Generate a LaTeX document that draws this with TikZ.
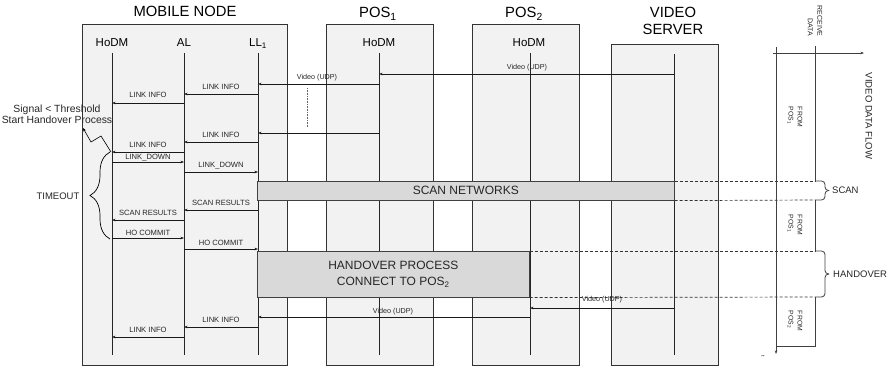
\documentclass[tikz,border=0pt]{standalone}
\usepackage{fontspec}
\setmainfont{Liberation Sans}
\usetikzlibrary{arrows.meta,calc,decorations.pathreplacing}
\newcommand\msgarrow[5]{\draw[arr] ($(#1)+(0,#3)$) -- node[mlab, yshift=#4pt]{#5} ($(#2)+(0,#3)$);}
\begin{document}
\begin{tikzpicture}[x=1pt,y=-1pt,
  box/.style={draw=black!80, fill=gray!10, line width=0.7pt, inner sep=0pt, anchor=north west},
  bar/.style={draw=black!75, fill=gray!30, line width=0.6pt, inner sep=0pt, anchor=north west, text=black!85},
  life/.style={line width=0.8pt, draw=black!85},
  arr/.style={-{Stealth[length=3.5pt,width=2.6pt]}, line width=0.6pt, draw=black!90},
  mlab/.style={font=\fontsize{7.6}{9}\selectfont, text=black!85, anchor=base, inner sep=0pt},
  vlab/.style={font=\fontsize{7.2}{9}\selectfont, text=black!85, anchor=base, inner sep=0pt},
  ttl/.style={font=\fontsize{14.8}{17}\selectfont, align=center, inner sep=0pt, anchor=base},
  llab/.style={font=\fontsize{11.5}{14}\selectfont, inner sep=0pt, anchor=base},
  side/.style={font=\fontsize{9.5}{11}\selectfont, inner sep=0pt, text=black!85},
  rot/.style={font=\fontsize{6.8}{9}\selectfont, inner sep=0pt, rotate=-90, text=black!85},
  axis/.style={line width=0.8pt, draw=black!75},
  dsh/.style={line width=0.7pt, dash pattern=on 3pt off 2pt, draw=black!80}]
\useasboundingbox (0,0) rectangle (892,369);

% boxes
\node[box, minimum width=205pt, minimum height=341pt] (mn) at (82,24) {};
\node[box, minimum width=107pt, minimum height=341pt] (p1) at (326,24) {};
\node[box, minimum width=107pt, minimum height=341pt] (p2) at (472,24) {};
\node[box, minimum width=107pt, minimum height=321pt] (vs) at (611,44) {};

% titles
\node[ttl] (tmn) at (185,17) {MOBILE NODE};
\node[ttl] (tp1) at (378,18) {POS\textsubscript{1}};
\node[ttl] (tp2) at (524,18) {POS\textsubscript{2}};
\node[ttl] (tvs) at (673,34.5) {VIDEO\\SERVER};

% lifeline coordinates
\coordinate (H) at (112,0);
\coordinate (A) at (184,0);
\coordinate (L) at (258,0);
\coordinate (P1) at (379,0);
\coordinate (P2) at (530,0);
\coordinate (S) at (674,0);

% lifeline labels
\node[llab] (lH) at (112,47) {HoDM};
\node[llab] (lA) at (184,47) {AL};
\node[llab] (lL) at (258,47) {LL\textsubscript{1}};
\node[llab] (lP1) at (379,47) {HoDM};
\node[llab] (lP2) at (529,47) {HoDM};

% lifelines
\foreach \c in {H,A,L,P1,P2} \draw[life] ($(\c)+(0,53)$) -- ($(\c)+(0,355)$);
\draw[life] ($(S)+(0,54)$) -- ($(S)+(0,355)$);

% mobile node messages
\msgarrow{L}{A}{94}{5}{LINK INFO}
\msgarrow{A}{H}{103}{5}{LINK INFO}
\msgarrow{L}{A}{142}{5}{LINK INFO}
\msgarrow{A}{H}{152}{5}{LINK INFO}
\msgarrow{H}{A}{162}{3}{LINK\_DOWN}
\msgarrow{A}{L}{172}{5}{LINK\_DOWN}
\msgarrow{L}{A}{210}{5}{SCAN RESULTS}
\msgarrow{A}{H}{220}{5}{SCAN RESULTS}
\msgarrow{H}{A}{238}{2.5}{HO COMMIT}
\msgarrow{A}{L}{249}{3.5}{HO COMMIT}
\msgarrow{L}{A}{327}{5}{LINK INFO}
\msgarrow{A}{H}{337}{5}{LINK INFO}

% video messages
\draw[arr] ($(S)+(0,74)$) -- ($(P1)+(0,74)$);
\node[vlab] (v1) at (527,69.6) {Video (UDP)};
\draw[arr] ($(P1)+(0,84)$) -- ($(L)+(0,84)$);
\node[vlab] (v2) at (317,79.6) {Video (UDP)};
\draw[arr] ($(P1)+(0,133)$) -- ($(L)+(0,133)$);
\draw[arr] ($(S)+(0,308)$) -- ($(P2)+(0,308)$);
\node[vlab] (v3) at (602,301.6) {Video (UDP)};
\draw[arr] ($(P2)+(0,317)$) -- ($(L)+(0,317)$);
\node[vlab] (v4) at (393,313.6) {Video (UDP)};

% dotted continuation
\coordinate (d0) at (307,88);
\coordinate (d1) at (307,127);
\draw[black!60, line width=0.7pt, dash pattern=on 0.8pt off 0.8pt] (d0) -- (d1);

% bars
\node[bar, minimum width=417pt, minimum height=19pt, font=\fontsize{12}{14}\selectfont] (scan) at (257,181) {SCAN NETWORKS};
\node[bar, minimum width=272pt, minimum height=46pt, font=\fontsize{12}{16}\selectfont, align=center] (hand) at (257,251) {HANDOVER PROCESS\\CONNECT TO POS\textsubscript{2}};

% signal note
\node[font=\fontsize{10.4}{10.5}\selectfont, align=center, inner sep=0pt, anchor=base, text=black!85] (sig) at (57,123) {Signal < Threshold\\Start Handover Process};
\coordinate (z0) at (111,152);
\coordinate (z1) at (101,136);
\coordinate (z2) at (91,142);
\coordinate (z3) at (83,128);
\draw[-{Stealth[length=3.5pt,width=2.6pt]}, line width=0.6pt] (z0) -- (z1) -- (z2) -- (z3);

% timeout brace
\coordinate (tb0) at (110,239);
\coordinate (tb1) at (110,152);
\draw[line width=0.7pt, decorate, decoration={brace, amplitude=20pt}] (tb0) -- (tb1);
\node[side, anchor=base] (tmo) at (58,199.4) {TIMEOUT};

% dashed extensions
\draw[dsh] (scan.north east) -- (815,181);
\draw[dsh] (scan.south east) -- (815,200);
\draw[dsh] (hand.north east) -- (815,251);
\draw[dsh] (hand.south east) -- (815,297);

% right-hand data flow diagram
\coordinate (ax0) at (773,53);
\coordinate (ax1) at (864,53);
\draw[axis, -{Stealth[length=3.5pt,width=2.6pt]}] (ax0) -- (ax1);
\coordinate (ta0) at (776,47);
\coordinate (ta1) at (776,354);
\draw[axis, -{Stealth[length=3.5pt,width=2.6pt]}] (ta0) -- (ta1);
\draw[axis] (815,46) -- (815,181);
\draw[axis] (815,200) -- (815,251);
\draw[axis] (815,297) -- (815,346) -- (776,346);

% right braces
\draw[axis, rounded corners=3.5pt] (815,181) -- (825,181) -- (825,190.5) -- (829,190.5);
\draw[axis, rounded corners=3.5pt] (815,200) -- (825,200) -- (825,190.5) -- (829,190.5);
\draw[axis, rounded corners=3.5pt] (815,251) -- (825,251) -- (825,274) -- (829,274);
\draw[axis, rounded corners=3.5pt] (815,297) -- (825,297) -- (825,274) -- (829,274);
\node[side, anchor=west] (lscan) at (832,190.5) {SCAN};
\node[side, anchor=west] (lhand) at (833,274) {HANDOVER};

\node[rot, align=right, font=\fontsize{7}{9.5}\selectfont] (recv) at (815,21) {RECEIVE\\DATA};
\node[rot, font=\fontsize{9.5}{11}\selectfont] (vdf) at (869,116) {VIDEO DATA FLOW};
\node[rot, align=left] (f1) at (795,117) {FROM\\POS\textsubscript{1}};
\node[rot, align=left] (f2) at (795,225) {FROM\\POS\textsubscript{1}};
\node[rot, align=left] (f3) at (795,321) {FROM\\POS\textsubscript{2}};
\node[rot, font=\fontsize{5}{6}\selectfont] (tlab) at (763,356) {t};
\end{tikzpicture}
\end{document}
